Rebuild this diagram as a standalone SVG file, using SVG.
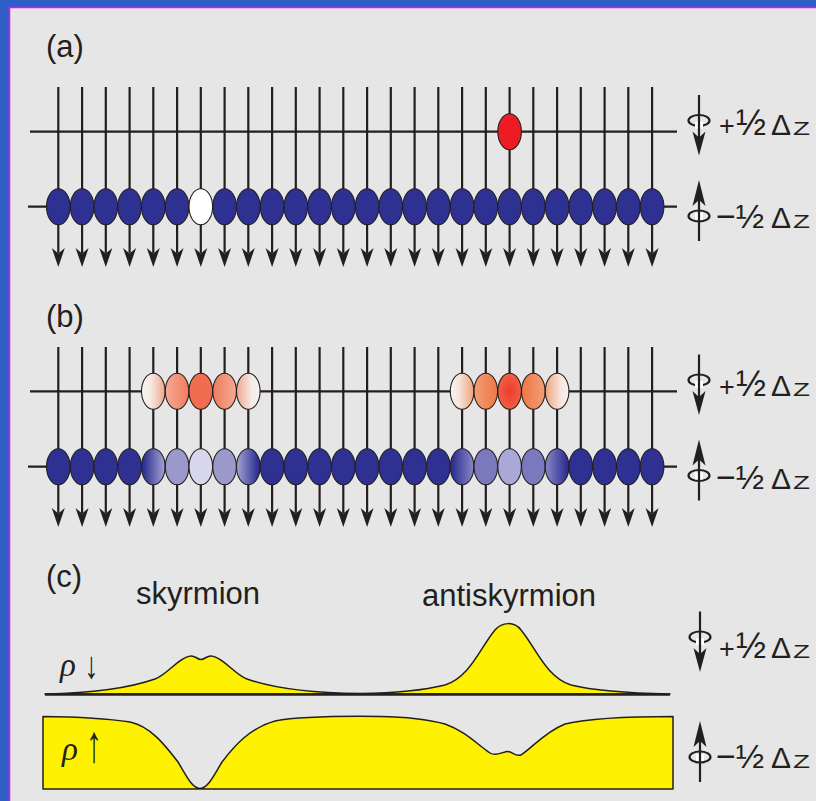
<svg xmlns="http://www.w3.org/2000/svg" xmlns:xlink="http://www.w3.org/1999/xlink" width="816" height="801" viewBox="0 0 816 801">
<style>
.ln{stroke:#231f20;stroke-width:2.2;fill:none}
.ah{fill:#231f20}
.ov{stroke:#231f20;stroke-width:1.1}
.bl{fill:#2e3192}
.lbl{font-family:"Liberation Sans",Arial,sans-serif;fill:#231f20}
.rho{font-family:"Liberation Serif","Times New Roman",serif;font-style:italic;fill:#231f20}
.arr{font-family:"Liberation Sans","DejaVu Sans",sans-serif;fill:#231f20}
.curve{stroke:#231f20;stroke-width:1.5;fill:#fff200;stroke-linejoin:round}
</style>
<defs>
<g id="vl"><line x1="0" y1="0" x2="0" y2="166" class="ln"/><path d="M-6.5,161 L0,166.5 L6.5,161 L0,180 Z" class="ah"/></g>
<g id="spDn"><ellipse cx="0" cy="0" rx="10.5" ry="5.5" class="ln" stroke-width="2"/><rect x="-4" y="1" width="8" height="7" fill="#ffffff"/><line x1="0" y1="-25.5" x2="0" y2="20" class="ln"/><path d="M-6.5,11 L0,17 L6.5,11 L0,35 Z" class="ah"/></g>
<g id="spUp"><ellipse cx="0" cy="0" rx="10.5" ry="5.5" class="ln" stroke-width="2"/><rect x="-4" y="-3" width="8" height="7" fill="#ffffff"/><line x1="0" y1="-20" x2="0" y2="25" class="ln"/><path d="M-6.5,-10 L0,-16 L6.5,-10 L0,-36 Z" class="ah"/></g>
<linearGradient id="rW" x1="0" y1="0" x2="1" y2="0"><stop offset="0" stop-color="#f7f3f1"/><stop offset="0.35" stop-color="#f6ece7"/><stop offset="1" stop-color="#efa68c"/></linearGradient>
<linearGradient id="rWm" x1="1" y1="0" x2="0" y2="0"><stop offset="0" stop-color="#f7f3f1"/><stop offset="0.35" stop-color="#f6ece7"/><stop offset="1" stop-color="#efa68c"/></linearGradient>
<linearGradient id="rS" x1="0" y1="0" x2="1" y2="0"><stop offset="0" stop-color="#f4ac94"/><stop offset="1" stop-color="#ef7b5e"/></linearGradient>
<linearGradient id="rSm" x1="1" y1="0" x2="0" y2="0"><stop offset="0" stop-color="#f4ac94"/><stop offset="1" stop-color="#ef7b5e"/></linearGradient>
<linearGradient id="oW" x1="0" y1="0" x2="1" y2="0"><stop offset="0" stop-color="#f7f3f1"/><stop offset="0.35" stop-color="#f5e6de"/><stop offset="1" stop-color="#f0a47c"/></linearGradient>
<linearGradient id="oWm" x1="1" y1="0" x2="0" y2="0"><stop offset="0" stop-color="#f7f3f1"/><stop offset="0.35" stop-color="#f5e6de"/><stop offset="1" stop-color="#f0a47c"/></linearGradient>
<linearGradient id="oS" x1="0" y1="0" x2="1" y2="0"><stop offset="0" stop-color="#f39e76"/><stop offset="1" stop-color="#ef7646"/></linearGradient>
<linearGradient id="oSm" x1="1" y1="0" x2="0" y2="0"><stop offset="0" stop-color="#f39e76"/><stop offset="1" stop-color="#ef7646"/></linearGradient>
<radialGradient id="oC" cx="0.5" cy="0.5" r="0.55"><stop offset="0" stop-color="#ee3a30"/><stop offset="1" stop-color="#f06444"/></radialGradient>
<linearGradient id="bA" x1="0" y1="0" x2="1" y2="0"><stop offset="0.1" stop-color="#2e3192"/><stop offset="1" stop-color="#a6a4d3"/></linearGradient>
<linearGradient id="bAm" x1="1" y1="0" x2="0" y2="0"><stop offset="0.1" stop-color="#2e3192"/><stop offset="1" stop-color="#a6a4d3"/></linearGradient>
<linearGradient id="bB" x1="0" y1="0" x2="1" y2="0"><stop offset="0.1" stop-color="#2e3192"/><stop offset="1" stop-color="#8a88c6"/></linearGradient>
<linearGradient id="bBm" x1="1" y1="0" x2="0" y2="0"><stop offset="0.1" stop-color="#2e3192"/><stop offset="1" stop-color="#8a88c6"/></linearGradient>
</defs>

<g id="frame">
<rect x="0" y="0" width="816" height="801" fill="#2f5ec6"/>
<rect x="10" y="8" width="806" height="793" fill="#e6e6e6"/>
<path d="M9.5,801 L9.5,7.5 L816,7.5" stroke="#ff00ff" stroke-width="1.5" fill="none"/>
</g>

<g id="panel-a">
<text class="lbl" x="46" y="56.5" font-size="31">(a)</text>
<g id="a-connectors">
<line x1="30" y1="131.7" x2="677" y2="131.7" class="ln"/>
<line x1="28" y1="206.7" x2="677" y2="206.7" class="ln"/>
<use xlink:href="#vl" x="58.3" y="87"/><use xlink:href="#vl" x="82.1" y="87"/><use xlink:href="#vl" x="105.8" y="87"/><use xlink:href="#vl" x="129.6" y="87"/><use xlink:href="#vl" x="153.3" y="87"/><use xlink:href="#vl" x="177.1" y="87"/><use xlink:href="#vl" x="200.8" y="87"/><use xlink:href="#vl" x="224.6" y="87"/><use xlink:href="#vl" x="248.3" y="87"/><use xlink:href="#vl" x="272.1" y="87"/><use xlink:href="#vl" x="295.8" y="87"/><use xlink:href="#vl" x="319.6" y="87"/><use xlink:href="#vl" x="343.3" y="87"/><use xlink:href="#vl" x="367.1" y="87"/><use xlink:href="#vl" x="390.8" y="87"/><use xlink:href="#vl" x="414.6" y="87"/><use xlink:href="#vl" x="438.3" y="87"/><use xlink:href="#vl" x="462.1" y="87"/><use xlink:href="#vl" x="485.8" y="87"/><use xlink:href="#vl" x="509.6" y="87"/><use xlink:href="#vl" x="533.3" y="87"/><use xlink:href="#vl" x="557.1" y="87"/><use xlink:href="#vl" x="580.8" y="87"/><use xlink:href="#vl" x="604.6" y="87"/><use xlink:href="#vl" x="628.3" y="87"/><use xlink:href="#vl" x="652.1" y="87"/>
</g>
<g id="a-upper">
<ellipse cx="509.6" cy="131.7" rx="11.8" ry="18" class="ov" fill="#ed1c24"/>
</g>
<g id="a-lower" class="ov">
<ellipse cx="58.3" cy="206.7" rx="11.8" ry="18" class="bl"/><ellipse cx="82.1" cy="206.7" rx="11.8" ry="18" class="bl"/><ellipse cx="105.8" cy="206.7" rx="11.8" ry="18" class="bl"/><ellipse cx="129.6" cy="206.7" rx="11.8" ry="18" class="bl"/><ellipse cx="153.3" cy="206.7" rx="11.8" ry="18" class="bl"/><ellipse cx="177.1" cy="206.7" rx="11.8" ry="18" class="bl"/><ellipse cx="200.8" cy="206.7" rx="11.8" ry="18" fill="#ffffff"/><ellipse cx="224.6" cy="206.7" rx="11.8" ry="18" class="bl"/><ellipse cx="248.3" cy="206.7" rx="11.8" ry="18" class="bl"/><ellipse cx="272.1" cy="206.7" rx="11.8" ry="18" class="bl"/><ellipse cx="295.8" cy="206.7" rx="11.8" ry="18" class="bl"/><ellipse cx="319.6" cy="206.7" rx="11.8" ry="18" class="bl"/><ellipse cx="343.3" cy="206.7" rx="11.8" ry="18" class="bl"/><ellipse cx="367.1" cy="206.7" rx="11.8" ry="18" class="bl"/><ellipse cx="390.8" cy="206.7" rx="11.8" ry="18" class="bl"/><ellipse cx="414.6" cy="206.7" rx="11.8" ry="18" class="bl"/><ellipse cx="438.3" cy="206.7" rx="11.8" ry="18" class="bl"/><ellipse cx="462.1" cy="206.7" rx="11.8" ry="18" class="bl"/><ellipse cx="485.8" cy="206.7" rx="11.8" ry="18" class="bl"/><ellipse cx="509.6" cy="206.7" rx="11.8" ry="18" class="bl"/><ellipse cx="533.3" cy="206.7" rx="11.8" ry="18" class="bl"/><ellipse cx="557.1" cy="206.7" rx="11.8" ry="18" class="bl"/><ellipse cx="580.8" cy="206.7" rx="11.8" ry="18" class="bl"/><ellipse cx="604.6" cy="206.7" rx="11.8" ry="18" class="bl"/><ellipse cx="628.3" cy="206.7" rx="11.8" ry="18" class="bl"/><ellipse cx="652.1" cy="206.7" rx="11.8" ry="18" class="bl"/>
</g>
<g id="a-spins">
<use xlink:href="#spDn" x="699" y="120.5"/>
<use xlink:href="#spUp" x="699" y="216"/>
<text class="lbl" y="135"><tspan x="719" font-size="27">+</tspan><tspan x="736" font-size="36">½</tspan><tspan x="771" font-size="30">Δ</tspan></text>
<text class="lbl" x="793" y="135" font-size="19" textLength="17" lengthAdjust="spacingAndGlyphs">Z</text>
<text class="lbl" x="716" y="228" font-size="34">−½<tspan x="771" font-size="30">Δ</tspan></text>
<text class="lbl" x="793" y="228" font-size="19" textLength="17" lengthAdjust="spacingAndGlyphs">Z</text>
</g>
</g>

<g id="panel-b">
<text class="lbl" x="46" y="326.5" font-size="31">(b)</text>
<g id="b-connectors">
<line x1="30" y1="391.3" x2="677" y2="391.3" class="ln"/>
<line x1="28" y1="466.7" x2="677" y2="466.7" class="ln"/>
<use xlink:href="#vl" x="58.3" y="347"/><use xlink:href="#vl" x="82.1" y="347"/><use xlink:href="#vl" x="105.8" y="347"/><use xlink:href="#vl" x="129.6" y="347"/><use xlink:href="#vl" x="153.3" y="347"/><use xlink:href="#vl" x="177.1" y="347"/><use xlink:href="#vl" x="200.8" y="347"/><use xlink:href="#vl" x="224.6" y="347"/><use xlink:href="#vl" x="248.3" y="347"/><use xlink:href="#vl" x="272.1" y="347"/><use xlink:href="#vl" x="295.8" y="347"/><use xlink:href="#vl" x="319.6" y="347"/><use xlink:href="#vl" x="343.3" y="347"/><use xlink:href="#vl" x="367.1" y="347"/><use xlink:href="#vl" x="390.8" y="347"/><use xlink:href="#vl" x="414.6" y="347"/><use xlink:href="#vl" x="438.3" y="347"/><use xlink:href="#vl" x="462.1" y="347"/><use xlink:href="#vl" x="485.8" y="347"/><use xlink:href="#vl" x="509.6" y="347"/><use xlink:href="#vl" x="533.3" y="347"/><use xlink:href="#vl" x="557.1" y="347"/><use xlink:href="#vl" x="580.8" y="347"/><use xlink:href="#vl" x="604.6" y="347"/><use xlink:href="#vl" x="628.3" y="347"/><use xlink:href="#vl" x="652.1" y="347"/>
</g>
<g id="b-upper" class="ov">
<ellipse cx="153.3" cy="391.3" rx="11.8" ry="18" fill="url(#rW)"/><ellipse cx="177.1" cy="391.3" rx="11.8" ry="18" fill="url(#rS)"/><ellipse cx="200.8" cy="391.3" rx="11.8" ry="18" fill="#f26d50"/><ellipse cx="224.6" cy="391.3" rx="11.8" ry="18" fill="url(#rSm)"/><ellipse cx="248.3" cy="391.3" rx="11.8" ry="18" fill="url(#rWm)"/>
<ellipse cx="462.1" cy="391.3" rx="11.8" ry="18" fill="url(#oW)"/><ellipse cx="485.8" cy="391.3" rx="11.8" ry="18" fill="url(#oS)"/><ellipse cx="509.6" cy="391.3" rx="11.8" ry="18" fill="url(#oC)"/><ellipse cx="533.3" cy="391.3" rx="11.8" ry="18" fill="url(#oSm)"/><ellipse cx="557.1" cy="391.3" rx="11.8" ry="18" fill="url(#oWm)"/>
</g>
<g id="b-lower" class="ov">
<ellipse cx="58.3" cy="466.7" rx="11.8" ry="18" class="bl"/><ellipse cx="82.1" cy="466.7" rx="11.8" ry="18" class="bl"/><ellipse cx="105.8" cy="466.7" rx="11.8" ry="18" class="bl"/><ellipse cx="129.6" cy="466.7" rx="11.8" ry="18" class="bl"/><ellipse cx="153.3" cy="466.7" rx="11.8" ry="18" fill="url(#bA)"/><ellipse cx="177.1" cy="466.7" rx="11.8" ry="18" fill="#9b99ca"/><ellipse cx="200.8" cy="466.7" rx="11.8" ry="18" fill="#d9d7ee"/><ellipse cx="224.6" cy="466.7" rx="11.8" ry="18" fill="#9b99ca"/><ellipse cx="248.3" cy="466.7" rx="11.8" ry="18" fill="url(#bAm)"/><ellipse cx="272.1" cy="466.7" rx="11.8" ry="18" class="bl"/><ellipse cx="295.8" cy="466.7" rx="11.8" ry="18" class="bl"/><ellipse cx="319.6" cy="466.7" rx="11.8" ry="18" class="bl"/><ellipse cx="343.3" cy="466.7" rx="11.8" ry="18" class="bl"/><ellipse cx="367.1" cy="466.7" rx="11.8" ry="18" class="bl"/><ellipse cx="390.8" cy="466.7" rx="11.8" ry="18" class="bl"/><ellipse cx="414.6" cy="466.7" rx="11.8" ry="18" class="bl"/><ellipse cx="438.3" cy="466.7" rx="11.8" ry="18" class="bl"/><ellipse cx="462.1" cy="466.7" rx="11.8" ry="18" fill="url(#bB)"/><ellipse cx="485.8" cy="466.7" rx="11.8" ry="18" fill="#7b79bd"/><ellipse cx="509.6" cy="466.7" rx="11.8" ry="18" fill="#aaa8d7"/><ellipse cx="533.3" cy="466.7" rx="11.8" ry="18" fill="#7b79bd"/><ellipse cx="557.1" cy="466.7" rx="11.8" ry="18" fill="url(#bBm)"/><ellipse cx="580.8" cy="466.7" rx="11.8" ry="18" class="bl"/><ellipse cx="604.6" cy="466.7" rx="11.8" ry="18" class="bl"/><ellipse cx="628.3" cy="466.7" rx="11.8" ry="18" class="bl"/><ellipse cx="652.1" cy="466.7" rx="11.8" ry="18" class="bl"/>
</g>
<g id="b-spins">
<use xlink:href="#spDn" x="699" y="380"/>
<use xlink:href="#spUp" x="699" y="475.5"/>
<text class="lbl" y="396"><tspan x="719" font-size="27">+</tspan><tspan x="736" font-size="36">½</tspan><tspan x="771" font-size="30">Δ</tspan></text>
<text class="lbl" x="793" y="396" font-size="19" textLength="17" lengthAdjust="spacingAndGlyphs">Z</text>
<text class="lbl" x="716" y="489" font-size="34">−½<tspan x="771" font-size="30">Δ</tspan></text>
<text class="lbl" x="793" y="489" font-size="19" textLength="17" lengthAdjust="spacingAndGlyphs">Z</text>
</g>
</g>

<g id="panel-c">
<text class="lbl" x="46" y="586.5" font-size="31">(c)</text>
<text class="lbl" x="136" y="604" font-size="31">skyrmion</text>
<text class="lbl" x="422" y="606" font-size="31">antiskyrmion</text>
<path class="curve" d="M45,694 C100,693 135,686 155,679 C168,674 178,658 190,656 C195,655 197,659.5 201,659.5 C205,659.5 207,655 212,656 C224,658 234,674 247,679 C267,686 302,693 360,693.5 C400,693 425,690 445,685 C470,677 480,648 495,630 C502,622 514,621 521,630 C536,648 546,677 571,685 C591,690 620,693 670,694 Z"/>
<line x1="45" y1="694.5" x2="670" y2="694.5" stroke="#231f20" stroke-width="2.5"/>
<path class="curve" d="M43,789 L43,716.5 C80,717 110,719 130,722 C150,726 165,745 178,762 C186,775 192,788.5 200,788.5 C208,788.5 214,775 222,762 C235,745 250,728 275,721 C300,716.5 340,716 380,716.5 C410,717 430,720 445,724 C465,731 478,745 490,753 C496,757 502,752 507,751.5 C512,751 515,757 521,755 C533,747 545,732 565,724 C590,718 630,716.5 673,716.5 L673,789 Z"/>
<text class="rho" x="60" y="676" font-size="33">ρ</text>
<text class="arr" transform="translate(84.5,677.5) scale(1,1.35)" x="0" y="0" font-size="28">↓</text>
<text class="rho" x="62" y="760" font-size="33">ρ</text>
<text class="arr" transform="translate(86,761.5) scale(1,1.65)" x="0" y="0" font-size="32">↑</text>
<g id="c-spins">
<use xlink:href="#spDn" x="700" y="637"/>
<use xlink:href="#spUp" x="700" y="757"/>
<text class="lbl" y="658"><tspan x="719" font-size="27">+</tspan><tspan x="736" font-size="36">½</tspan><tspan x="771" font-size="30">Δ</tspan></text>
<text class="lbl" x="793" y="658" font-size="19" textLength="17" lengthAdjust="spacingAndGlyphs">Z</text>
<text class="lbl" x="716" y="768" font-size="34">−½<tspan x="771" font-size="30">Δ</tspan></text>
<text class="lbl" x="793" y="768" font-size="19" textLength="17" lengthAdjust="spacingAndGlyphs">Z</text>
</g>
</g>
</svg>
